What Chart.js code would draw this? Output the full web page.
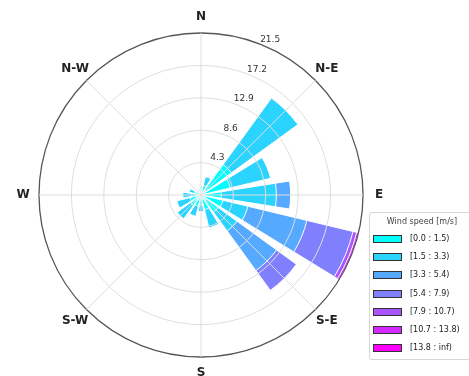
<!DOCTYPE html>
<html>
<head>
<meta charset="utf-8">
<script src="https://cdn.jsdelivr.net/npm/chart.js@4.4.0/dist/chart.umd.min.js"></script>
<style>
  html, body { margin: 0; padding: 0; background: #fff; overflow: hidden; }
  #wrap { position: relative; width: 469px; height: 376px; overflow: hidden; }
  #legend {
    position: absolute; left: 369px; top: 212px; width: 106px; height: 148px;
    border: 1px solid #d6d6d6; border-radius: 3px; background: #fff; box-sizing: border-box;
    font-family: "DejaVu Sans", sans-serif; font-size: 8px; color: #222;
  }
  #legend .title { position: absolute; left: 0; width: 100%; top: 4px; text-align: center; color: #444; }
  #legend .row { position: absolute; left: 3px; height: 8px; line-height: 8px; white-space: nowrap; }
  #legend .sw { display: inline-block; width: 27px; height: 6px; border: 1px solid #333; vertical-align: top; }
  #legend .txt { position: absolute; left: 37px; top: 0; }
</style>
</head>
<body>
<div id="wrap">
  <canvas id="rose" width="469" height="376"></canvas>
  <div id="legend"></div>
</div>
<script>
// 16 compass sectors, north first, clockwise
const directions = ["N", "NNE", "NE", "ENE", "E", "ESE", "SE", "SSE",
                    "S", "SSW", "SW", "WSW", "W", "WNW", "NW", "NNW"];
const compassLabels = ["N", "N-E", "E", "S-E", "S", "S-W", "W", "N-W"];
const speedBins = ["[0.0 : 1.5)", "[1.5 : 3.3)", "[3.3 : 5.4)", "[5.4 : 7.9)",
                   "[7.9 : 10.7)", "[10.7 : 13.8)", "[13.8 : inf)"];
const radialTicks = [4.3, 8.6, 12.9, 17.2, 21.5];

// frequency (%) of each speed bin per direction
const bin0 = [0.7, 1.3, 5.0, 4.0, 2.7, 3.0, 2.8, 2.0, 1.3, 1.5, 1.7, 1.5, 1.2, 0.9, 0.4, 0.5];
const bin1 = [0.4, 1.2, 10.9, 5.5, 7.3, 3.4, 3.1, 2.5, 0.9, 1.4, 2.2, 1.8, 1.2, 0.7, 0.2, 0.3];
const bin2 = [0, 0, 0, 0, 1.9, 8.05, 6.5, 0, 0, 0, 0, 0, 0, 0, 0, 0];
const bin3 = [0, 0, 0, 0, 0, 6.3, 3.25, 0, 0, 0, 0, 0, 0, 0, 0, 0];
const bin4 = [0, 0, 0, 0, 0, 0.5, 0, 0, 0, 0, 0, 0, 0, 0, 0, 0];
const bin5 = [0, 0, 0, 0, 0, 0.25, 0, 0, 0, 0, 0, 0, 0, 0, 0, 0];
const bin6 = [0, 0, 0, 0, 0, 0, 0, 0, 0, 0, 0, 0, 0, 0, 0, 0];

// matplotlib "cool" colormap, 7 steps
const binColors = ["rgb(0,255,255)", "rgb(42,212,255)", "rgb(85,170,255)", "rgb(128,128,255)",
                   "rgb(170,85,255)", "rgb(212,42,255)", "rgb(255,0,255)"];

const bins = [bin0, bin1, bin2, bin3, bin4, bin5, bin6];
const barAngle = 18, gapAngle = 4.5;

// slices around the circle from north: half N bar, gap, NNE bar, gap, ..., NNW bar, gap, other half of N
function aroundCircle(vals, gap) {
  const out = [vals[0], gap];
  for (let k = 1; k < vals.length; k++) out.push(vals[k], gap);
  out.push(vals[0]);
  return out;
}
const sliceAngles = aroundCircle(directions.map((d, k) => k === 0 ? barAngle / 2 : barAngle), gapAngle);

// stacked look: cumulative arcs, smallest bin drawn on top (dataset 0 is drawn last)
let running = directions.map(() => 0);
const datasets = bins.map((b, j) => {
  running = running.map((v, k) => v + b[k]);
  return {
    label: speedBins[j],
    data: aroundCircle(running, 0),
    backgroundColor: binColors[j],
    borderColor: "#ffffff",
    borderWidth: (c) => (c.dataIndex % 2 ? 0 : 1),
    angle: (c) => sliceAngles[c.dataIndex],
  };
});

const roseText = {
  id: "roseText",
  afterDraw(chart) {
    const r = chart.scales.r;
    const ctx = chart.ctx;
    ctx.save();
    ctx.textAlign = "center";
    ctx.textBaseline = "middle";
    ctx.fillStyle = "#222";
    ctx.font = 'bold 12px "DejaVu Sans", sans-serif';
    compassLabels.forEach((lab, i) => {
      const p = r.getPointPosition(i, r.drawingArea + 16);
      ctx.fillText(lab, p.x, p.y);
    });
    ctx.fillStyle = "#333";
    ctx.font = '9px "DejaVu Sans", sans-serif';
    radialTicks.forEach((v) => {
      const p = r.getPointPosition(0, r.getDistanceFromCenterForValue(v) + 8, 24 * Math.PI / 180);
      ctx.fillText(v.toFixed(1), p.x, p.y);
    });
    ctx.restore();
  },
};

new Chart(document.getElementById("rose"), {
  type: "polarArea",
  data: { labels: compassLabels, datasets: datasets },
  options: {
    responsive: false,
    animation: false,
    layout: { padding: { left: 39, right: 106, top: 33, bottom: 19 } },
    plugins: { legend: { display: false }, tooltip: { enabled: false } },
    scales: {
      r: {
        min: 0,
        max: 21.5,
        startAngle: 0,
        afterBuildTicks: (s) => { s.ticks = [0, ...radialTicks].map((v) => ({ value: v })); },
        ticks: { display: false },
        pointLabels: { display: false },
        angleLines: { display: true, color: "#dedede", lineWidth: 1 },
        grid: {
          z: 1,
          circular: true,
          color: (c) => (c.index === radialTicks.length ? "#555555" : "#dedede"),
          lineWidth: (c) => (c.index === radialTicks.length ? 1.3 : 1),
        },
      },
    },
  },
  plugins: [roseText],
});

// legend box
const legend = document.getElementById("legend");
legend.innerHTML = '<div class="title">Wind speed [m/s]</div>';
speedBins.forEach((lab, j) => {
  const row = document.createElement("div");
  row.className = "row";
  row.style.top = (22 + j * 18.2) + "px";
  row.innerHTML = '<span class="sw" style="background:' + binColors[j] + '"></span><span class="txt">' + lab + "</span>";
  legend.appendChild(row);
});
</script>
</body>
</html>
